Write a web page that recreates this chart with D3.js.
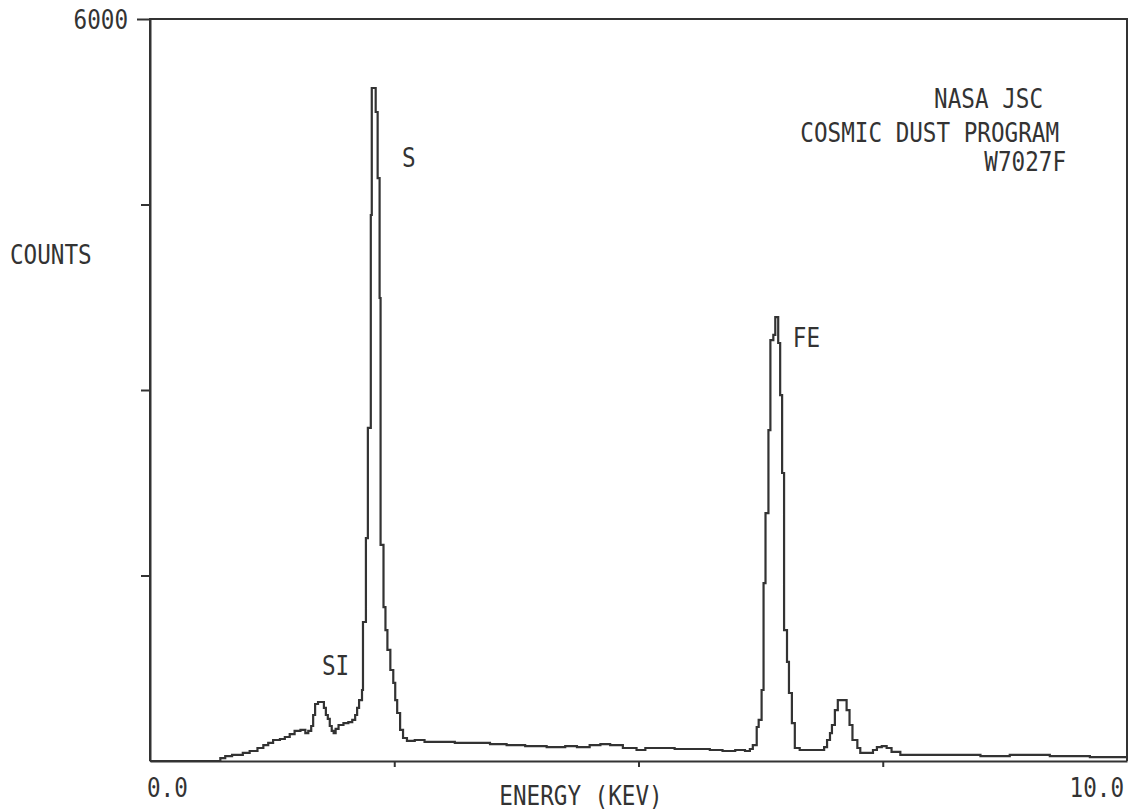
<!DOCTYPE html>
<html><head><meta charset="utf-8">
<script src="https://cdn.jsdelivr.net/npm/d3@7/dist/d3.min.js"></script>
<style>
body{margin:0;background:#fff;overflow:hidden}
text{font-family:"DejaVu Sans Mono","Liberation Mono",monospace;fill:#333;font-size:26px}
</style>
</head><body>
<svg id="c" width="1129" height="812"></svg>
<script>
// Spectrum (step histogram): energy (keV) and counts
const energy = [0.00,0.72,0.77,0.84,0.95,1.02,1.10,1.16,1.21,1.26,1.33,1.38,1.43,1.48,1.54,1.59,1.62,1.65,1.67,1.69,
  1.72,1.76,1.78,1.80,1.82,1.84,1.86,1.88,1.90,1.93,1.98,2.03,2.07,2.10,2.12,2.14,2.17,2.18,2.21,2.23,
  2.26,2.27,2.31,2.33,2.35,2.36,2.39,2.41,2.43,2.46,2.49,2.51,2.53,2.56,2.59,2.63,2.71,2.81,2.97,3.12,
  3.31,3.48,3.65,3.84,4.06,4.25,4.37,4.50,4.61,4.71,4.84,4.98,5.07,5.19,5.37,5.53,5.73,5.86,5.99,6.09,
  6.14,6.17,6.21,6.23,6.26,6.28,6.30,6.33,6.35,6.38,6.40,6.43,6.45,6.47,6.49,6.52,6.54,6.57,6.60,6.65,
  6.81,6.90,6.93,6.96,6.98,7.01,7.04,7.10,7.13,7.16,7.19,7.24,7.27,7.40,7.44,7.49,7.54,7.59,7.68,8.19,
  8.50,8.80,9.21,9.62,10.0];
const counts = [0,24,40,49,65,81,105,129,146,170,178,194,218,243,251,226,243,283,372,461,
  477,477,429,372,340,283,243,226,259,291,307,315,332,372,429,493,574,1124,1803,2693,
  4415,5442,5248,4714,3744,1747,1245,1059,898,736,631,493,388,251,186,162,170,154,154,146,
  146,137,129,121,113,121,113,129,137,129,105,89,105,105,97,97,89,81,89,81,
  97,129,275,332,574,1439,2005,2676,3404,3445,3590,3380,2959,2329,1059,801,550,307,105,89,
  89,113,170,226,291,412,493,493,412,291,170,105,65,89,113,121,105,73,49,49,
  40,49,40,32,32];

const xDomain = [0, 10];
const yDomain = [0, 6000];
const xTicks = [2.5, 5.0, 7.5];
const yTicks = [1500, 3000, 4500, 6000];
const xEndLabels = ["0.0", "10.0"];
const yTopLabel = "6000";
const xTitle = "ENERGY (KEV)";
const yTitle = "COUNTS";
const peakNames = ["SI", "S", "FE"];
const peakLabelE = [1.76, 2.58, 6.58];
const peakLabelC = [695, 4803, 3348];
const infoLines = ["NASA JSC", "COSMIC DUST PROGRAM", "W7027F"];

const ink = "#333";
const svg = d3.select("#c");
const L = 150, R = 1127, T = 19, B = 761;
const x = d3.scaleLinear().domain(xDomain).range([L, R]);
const y = d3.scaleLinear().domain(yDomain).range([B, T]);

const SX = 0.87; // narrow plotter lettering
function label(s, px, py, anchor) {
  return svg.append("text")
    .attr("transform", `translate(${px},${py}) scale(${SX},1)`)
    .attr("text-anchor", anchor || "start")
    .text(s);
}

// frame
svg.append("path")
  .attr("d", `M${L},${B}V${T}H${R}V${B}`)
  .attr("fill", "none").attr("stroke", ink).attr("stroke-width", 2);

// y axis ticks
const ya = svg.append("g").attr("transform", `translate(${L},0)`)
  .call(d3.axisLeft(y).tickValues(yTicks).tickSize(9).tickSizeOuter(0).tickFormat(() => ""));
ya.select(".domain").attr("stroke", ink).attr("stroke-width", 2);
ya.selectAll(".tick line").attr("stroke", ink).attr("stroke-width", 2);
ya.selectAll(".tick text").remove();
ya.selectAll(".tick").filter(d => d === 6000).select("line").attr("x2", -13);

// x axis
const xa = svg.append("g").attr("transform", `translate(0,${B})`)
  .call(d3.axisBottom(x).tickValues(xTicks).tickSize(6).tickSizeOuter(0).tickFormat(() => ""));
xa.select(".domain").attr("stroke", ink).attr("stroke-width", 2);
xa.selectAll(".tick line").attr("stroke", ink).attr("stroke-width", 2);
xa.selectAll(".tick text").remove();

// axis labels
label(yTopLabel, x(xDomain[0]) - 22, y(yDomain[1]) + 10, "end");
label(xEndLabels[0], x(xDomain[0]) - 3, 797);
label(xEndLabels[1], x(xDomain[1]) - 3, 797, "end");
label(xTitle, 581, 805, "middle");
label(yTitle, 10, 264);

// spectrum
const pts = energy.map((e, i) => [e, counts[i]]);
svg.append("path").datum(pts)
  .attr("d", d3.line().x(d => x(d[0])).y(d => y(d[1])).curve(d3.curveStepAfter))
  .attr("fill", "none").attr("stroke", ink).attr("stroke-width", 2.2).attr("stroke-linejoin", "miter");

// peak labels
peakNames.forEach((n, i) => label(n, x(peakLabelE[i]), y(peakLabelC[i])));

// info block
const infoRight = [1043, 1059, 1066];
const infoBase = [108, 142, 171];
infoLines.forEach((s, i) => label(s, infoRight[i], infoBase[i], "end"));
</script>
</body></html>
